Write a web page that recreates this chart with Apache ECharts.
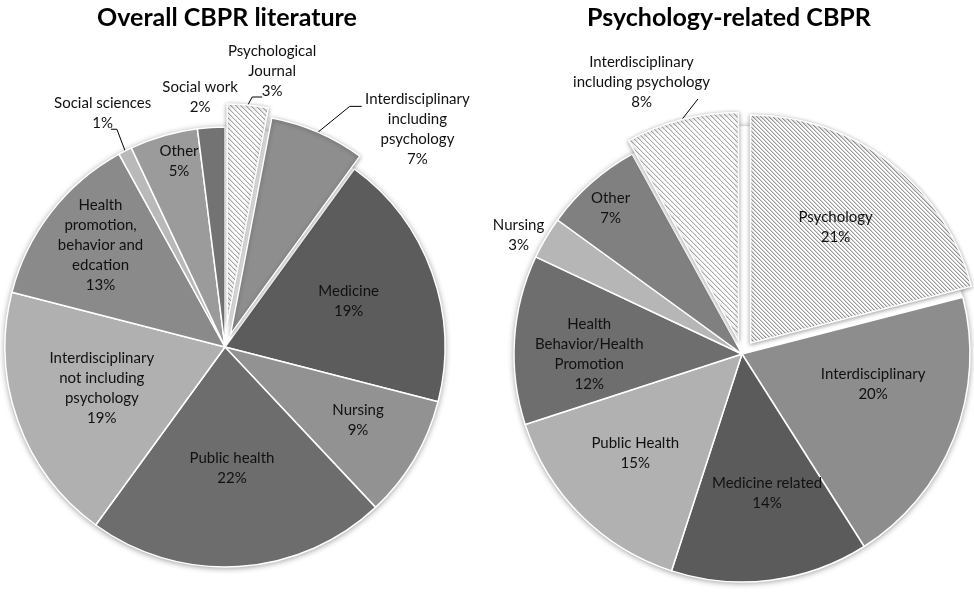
<!DOCTYPE html>
<html>
<head>
<meta charset="utf-8">
<script src="https://cdn.jsdelivr.net/npm/echarts@6/dist/echarts.min.js"></script>
<style>
html,body{margin:0;padding:0;background:#fff;}
#chart{width:974px;height:592px;}
</style>
</head>
<body>
<div id="chart"></div>
<script>
// ---- data ----
const leftTitle = 'Overall CBPR literature';
const leftCategories = ['Psychological\nJournal', 'Interdisciplinary\nincluding\npsychology', 'Medicine', 'Nursing', 'Public health', 'Interdisciplinary\nnot including\npsychology', 'Health\npromotion,\nbehavior and\nedcation', 'Social sciences', 'Other', 'Social work'];
const leftValues = [3, 7, 19, 9, 22, 19, 13, 1, 5, 2];

const rightTitle = 'Psychology-related CBPR';
const rightCategories = ['Psychology', 'Interdisciplinary', 'Medicine related', 'Public Health', 'Health\nBehavior/Health\nPromotion', 'Nursing', 'Other', 'Interdisciplinary\nincluding psychology'];
const rightValues = [21, 20, 14, 15, 12, 3, 7, 8];

// ---- style / layout config ----
const FONT = 'Lato';
const L = {cx: 225, cy: 347, r: 220};
const R = {cx: 742, cy: 354, r: 228};
const leftColors = ['hatchA', '#8e8e8e', '#5c5c5c', '#929292', '#6d6d6d', '#b0b0b0', '#8a8a8a', '#b9b9b9', '#9b9b9b', '#737373'];
const rightColors = ['hatchB', '#8d8d8d', '#5b5b5b', '#b1b1b1', '#6e6e6e', '#b6b6b6', '#808080', 'hatchC'];
// label placement: [distance factor of radius, angular tweak in degrees]
const leftLabelPlace = [[1.27, 4.3], [1.32, 18.1], [0.60, -0.7], [0.69, -1.8], [0.55, 0.3], [0.59, 1.4], [0.73, 1.4], [1.20, -0.6], [0.87, 2.3], [1.14, -2.1]];
const rightLabelPlace = [[0.69, -1.3], [0.59, -8.7], [0.62, -3], [0.64, 2], [0.67, -3.5], [1.11, -2.6], [0.86, -0.7], [1.27, -5.9]];
// leader lines: index -> [bend angle (deg from 12 o'clock), bend radius factor, horizontal tail px]
const leftLines = {0: [6.2, 1.143, 10], 1: [27.4, 1.232, 12], 7: [333.6, 1.105, -6]};
const rightLines = {7: [350.2, 1.135, 0]};
// exploded slices: index -> offset in px
const leftExplode = {0: 23, 1: 14};
const rightExplode = {0: 14, 7: 14};

function hatch(step, color, soft) {
  const c = document.createElement('canvas');
  c.width = step; c.height = step;
  const g = c.getContext('2d');
  g.fillStyle = '#ffffff'; g.fillRect(0, 0, step, step);
  for (let i = 0; i < step; i++) {
    g.fillStyle = color; g.fillRect(i, i, 1, 1);
    g.fillStyle = soft; g.fillRect((i + 1) % step, i, 1, 1);
  }
  return {image: c, repeat: 'repeat'};
}
const patterns = {
  hatchA: hatch(5, '#a8a8a8', '#e2e2e2'),
  hatchB: hatch(4, '#9a9a9a', '#d8d8d8'),
  hatchC: hatch(5, '#aaaaaa', '#e4e4e4')
};
function col(c) { return patterns[c] || c; }

function midAngles(values) {
  const total = values.reduce((a, b) => a + b, 0);
  const mids = []; let s = 0;
  values.forEach(v => { mids.push((s + v / 2) / total * 360); s += v; });
  return mids;
}
function polar(geo, deg, rr) {
  const a = deg * Math.PI / 180;
  return [geo.cx + rr * Math.sin(a), geo.cy - rr * Math.cos(a)];
}

function placer(values, place, geo, lines, explode) {
  const mids = midAngles(values);
  return function (p) {
    const i = p.dataIndex;
    const pos = polar(geo, mids[i] + place[i][1], place[i][0] * geo.r);
    const out = {x: pos[0], y: pos[1], align: 'center', verticalAlign: 'middle'};
    const ln = lines[i];
    if (ln) {
      const p0 = polar(geo, mids[i], geo.r + (explode[i] || 0));
      const p1 = polar(geo, ln[0], ln[1] * geo.r);
      const p2 = [p1[0] + ln[2], p1[1]];
      out.labelLinePoints = [p0, p1, p2];
    }
    return out;
  };
}

const labelBase = {
  color: '#111', fontFamily: FONT, fontSize: 15, lineHeight: 20, align: 'center',
  formatter: '{b}\n{c}%'
};

function buildData(cats, vals, colors, lines, visible, exploded) {
  return cats.map((name, i) => {
    const vis = visible(i);
    const isOut = !!lines[i];
    const st = {color: col(colors[i]), borderColor: '#ffffff', borderWidth: 1.5};
    if (exploded) { st.shadowBlur = 4; st.shadowColor = 'rgba(0,0,0,0.35)'; st.shadowOffsetY = 1; }
    return {
      name: name, value: vals[i],
      itemStyle: vis ? st : {color: 'rgba(0,0,0,0)', borderWidth: 0},
      label: {show: vis, position: isOut ? 'outside' : 'inside'},
      labelLine: {show: vis && isOut, length: 8, length2: 6, lineStyle: {color: '#000', width: 1}}
    };
  });
}

function shadowDisc(geo) {
  return {
    type: 'pie', silent: true, z: 1, center: [geo.cx, geo.cy], radius: geo.r,
    label: {show: false}, labelLine: {show: false}, animation: false,
    data: [{value: 1, itemStyle: {color: '#ffffff', shadowBlur: 6, shadowColor: 'rgba(0,0,0,0.45)', shadowOffsetY: 1}}]
  };
}

function pieSeries(center, geo, data, labelLayout) {
  return {
    type: 'pie', silent: true, z: 2, center: center, radius: geo.r,
    startAngle: 90, clockwise: true, avoidLabelOverlap: false,
    animation: false,
    label: labelBase,
    labelLayout: labelLayout,
    emphasis: {disabled: true},
    data: data
  };
}

function buildPie(geo, cats, vals, colors, lines, explode, place) {
  const mids = midAngles(vals);
  const layout = placer(vals, place, geo, lines, explode);
  const keys = Object.keys(explode).map(Number);
  const list = [shadowDisc(geo)];
  list.push(pieSeries([geo.cx, geo.cy], geo, buildData(cats, vals, colors, lines, i => keys.indexOf(i) < 0, false), layout));
  keys.forEach(k => {
    const c = polar(geo, mids[k], explode[k]);
    list.push(pieSeries(c, geo, buildData(cats, vals, colors, lines, i => i === k, true), layout));
  });
  return list;
}

const option = {
  backgroundColor: '#ffffff',
  animation: false,
  title: [
    {text: leftTitle, left: 222, top: 0, textAlign: 'center', textStyle: {fontFamily: FONT, fontWeight: 'bold', fontSize: 25, color: '#000'}},
    {text: rightTitle, left: 724, top: 0, textAlign: 'center', textStyle: {fontFamily: FONT, fontWeight: 'bold', fontSize: 25, color: '#000'}}
  ],
  series: [].concat(
    buildPie(L, leftCategories, leftValues, leftColors, leftLines, leftExplode, leftLabelPlace),
    buildPie(R, rightCategories, rightValues, rightColors, rightLines, rightExplode, rightLabelPlace)
  )
};

const chart = echarts.init(document.getElementById('chart'), null, {renderer: 'canvas'});
chart.setOption(option);
</script>
</body>
</html>
